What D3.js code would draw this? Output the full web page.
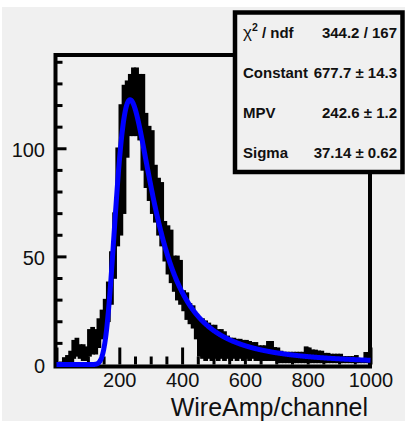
<!DOCTYPE html>
<html><head><meta charset="utf-8">
<script src="https://cdn.jsdelivr.net/npm/d3@7"></script>
<style>html,body{margin:0;padding:0;background:#fff;} svg{display:block;}</style>
</head><body>
<svg id="c" width="405" height="422"></svg>
<script>
// ---- data ----
const binStart = [0,10,20,30,40,50,60,70,80,90,100,110,120,130,140,150,160,170,180,190,
  200,210,220,230,240,250,260,270,280,290,300,310,320,330,340,350,360,370,380,390,
  400,410,420,430,440,450,460,470,480,490,500,510,520,530,540,550,560,570,580,590,
  600,610,620,630,640,650,660,670,680,690,700,710,720,730,740,750,760,770,780,790,
  800,810,820,830,840,850,860,870,880,890,900,910,920,930,940,950,960,970,980,990];
const binWidth = 10;
// upper and lower edge of the black histogram band (counts)
const bandHi = [0.5,1,3,4,6,11,12,9,9,8,16,17,16,21,25,30,38,52,70,100,
  120,129,131,134,137,137,134,134,116,110,108,92,86,84,66,64,62,50,50,48,
  34,33,28,27,22,21,21,20,19,18,18,16,16,15,13,12,12,11.5,11.5,11,
  11,10.5,10,10,8.5,8.5,8.5,10.5,10.5,7.7,7.5,6,5.5,5.5,5.5,5.5,5.5,5.5,5.5,8,
  7.5,6.6,6.5,6.1,6,5,5,4.6,4.6,4.6,4.6,3.5,3.5,3.5,3.5,4,2.5,2.3,5.4,5.4];
const bandLo = [0,0,0,0,1,3,4,3,2,2,4,5,5,8,12,16,20,28,40,55,
  60,70,96,106,106,106,104,90,82,76,70,66,60,55,48,42,38,34,30,28,
  25,21,19,17,12,4,3,2,3,2,3,2,3,2,3,2,3,2,3,2,
  3,2,3,2,2,2,2,2,2,2,1,1,1,1,1,1,1,1,1,1,
  1,1,1,1,1,1,1,1,1,1,1,1,1,1,1,1,1,1,1,1];
const xMajorTicks = [0,200,400,600,800,1000];
const xMinorTicks = [50,100,150,250,300,350,450,500,550,650,700,750,850,900,950];
const xTickLabels = [200,400,600,800,1000];
const yMajorTicks = [0,50,100];
const yMinorTicks = [10,20,30,40,60,70,80,90,110,120,130,140];
const statNames = ["Constant","MPV","Sigma"];
const statValues = ["677.7 \u00b1 14.3","242.6 \u00b1 1.2","37.14 \u00b1 0.62"];
const chi2Text = "344.2 / 167";
const fitParams = [677.7, 242.6, 37.14]; // Constant, MPV, Sigma (Landau)
const xTitle = "WireAmp/channel";

// ---- Landau density (CERNLIB DENLAN as in ROOT) ----
function landau(x, x0, xi){
  const p1=[0.4259894875,-0.1249762550,0.03984243700,-0.006298287635,0.001511162253];
  const q1=[1.0,-0.3388260629,0.09594393323,-0.01608042283,0.003778942063];
  const p2=[0.1788541609,0.1173957403,0.01488850518,-0.001394989411,0.0001283617211];
  const q2=[1.0,0.7428795082,0.3153932961,0.06694219548,0.008790609714];
  const p3=[0.1788544503,0.09359161662,0.006325387654,0.00006611667319,-0.000002031049101];
  const q3=[1.0,0.6097809921,0.2560616665,0.04746722384,0.006957301675];
  const p4=[0.9874054407,118.6723273,849.2794360,-743.7792444,427.0262186];
  const q4=[1.0,106.8615961,337.6496214,2016.712389,1597.063511];
  const p5=[1.003675074,167.5702434,4789.711289,21217.86767,-22324.94910];
  const q5=[1.0,156.9424537,3745.310488,9834.698876,66924.28357];
  const p6=[1.000827619,664.9143136,62972.92665,475554.6998,-5743609.109];
  const q6=[1.0,651.4101098,56974.73333,165917.4725,-2815759.939];
  const a1=[0.04166666667,-0.01996527778,0.02709538966];
  const a2=[-1.845568670,-4.284640743];
  const pol=(p,v)=>p[0]+(p[1]+(p[2]+(p[3]+p[4]*v)*v)*v)*v;
  const v=(x-x0)/xi; let u, d;
  if(v<-5.5){ u=Math.exp(v+1); if(u<1e-10) return 0;
    d=0.3989422803*(Math.exp(-1/u)/Math.sqrt(u))*(1+(a1[0]+(a1[1]+a1[2]*u)*u)*u);
  } else if(v<-1){ u=Math.exp(-v-1); d=Math.exp(-u)*Math.sqrt(u)*pol(p1,v)/pol(q1,v);
  } else if(v<1){ d=pol(p2,v)/pol(q2,v);
  } else if(v<5){ d=pol(p3,v)/pol(q3,v);
  } else if(v<12){ u=1/v; d=u*u*pol(p4,u)/pol(q4,u);
  } else if(v<50){ u=1/v; d=u*u*pol(p5,u)/pol(q5,u);
  } else if(v<300){ u=1/v; d=u*u*pol(p6,u)/pol(q6,u);
  } else { u=1/(v-v*Math.log(v)/(v+1)); d=u*u*(1+(a2[0]+a2[1]*u)*u); }
  return d;
}

// ---- layout ----
const svg = d3.select("#c");
const bg = "#f0f0f0";
svg.append("rect").attr("x",2).attr("y",7).attr("width",403).attr("height",414).attr("fill",bg);

const x = d3.scaleLinear().domain([0,1000]).range([56.5,370.5]);
const y = d3.scaleLinear().domain([0,143]).range([364.5,55.3]);

// histogram band
svg.append("g").selectAll("rect").data(binStart).join("rect")
  .attr("x",(d)=>x(d))
  .attr("width",(d)=>x(d+binWidth)-x(d))
  .attr("y",(d,i)=>y(bandHi[i]))
  .attr("height",(d,i)=>Math.max(0,y(bandLo[i])-y(bandHi[i])))
  .attr("fill","#000").attr("stroke","#000").attr("stroke-width",1.6);

// ticks
function styleAxis(g){
  g.select(".domain").remove();
  g.selectAll(".tick line").attr("stroke","#000").attr("stroke-width",3);
  g.selectAll(".tick text").attr("fill","#111").attr("font-family","'Liberation Sans',Arial,sans-serif").attr("font-size",20);
}
svg.append("g").attr("transform",`translate(0,${y(0)})`)
  .call(d3.axisBottom(x).tickValues(xMinorTicks).tickSize(-8).tickFormat("")).call(styleAxis);
svg.append("g").attr("transform",`translate(0,${y(0)})`)
  .call(d3.axisBottom(x).tickValues(xMajorTicks).tickSize(-17).tickFormat("")).call(styleAxis);
svg.append("g").attr("transform",`translate(0,${y(0)})`)
  .call(d3.axisBottom(x).tickValues(xTickLabels).tickSize(0).tickPadding(8.5).tickFormat(d3.format("d"))).call(styleAxis);
svg.append("g").attr("transform",`translate(${x(0)},0)`)
  .call(d3.axisLeft(y).tickValues(yMinorTicks).tickSize(-6).tickFormat("")).call(styleAxis);
svg.append("g").attr("transform",`translate(${x(0)},0)`)
  .call(d3.axisLeft(y).tickValues(yMajorTicks).tickSize(-10).tickPadding(11.5).tickFormat(d3.format("d"))).call(styleAxis)
  .selectAll(".tick text").attr("dy","0.42em");

// frame
svg.append("rect").attr("x",55.5).attr("y",55).attr("width",314.5).attr("height",311.5)
  .attr("fill","none").attr("stroke","#000").attr("stroke-width",4);

// fit curve
const fitX = d3.range(0,1000.5,1);
const line = d3.line().x(d=>x(d)).y(d=>y(fitParams[0]*landau(d,fitParams[1],fitParams[2])));
svg.append("path").datum(fitX).attr("d",line).attr("fill","none")
  .attr("stroke","#0000ff").attr("stroke-width",5).attr("stroke-linejoin","round");

// x title
svg.append("text").attr("x",368).attr("y",416).attr("text-anchor","end")
  .attr("font-family","'Liberation Sans',Arial,sans-serif").attr("font-size",25).attr("fill","#111")
  .text(xTitle);

// stats box
svg.append("rect").attr("x",235).attr("y",12.5).attr("width",167.5).attr("height",159.5)
  .attr("fill",bg).attr("stroke","#000").attr("stroke-width",4.5);
const sf = "'Liberation Sans',Arial,sans-serif";
const fs = 15;
const rowY = [37.5,77.5,117.5,157.5];
const t0 = svg.append("text").attr("x",243).attr("y",rowY[0]).attr("font-family",sf).attr("font-size",fs).attr("font-weight","bold").attr("fill","#111");
t0.append("tspan").attr("font-weight","normal").attr("font-size",17).text("\u03c7");
t0.append("tspan").attr("font-size",10.5).attr("dy",-7).text("2");
t0.append("tspan").attr("dy",7).text(" / ndf");
svg.append("text").attr("x",397).attr("y",rowY[0]).attr("text-anchor","end").attr("font-family",sf).attr("font-size",fs).attr("font-weight","bold").attr("fill","#111").text(chi2Text);
statNames.forEach((n,i)=>{
  svg.append("text").attr("x",243).attr("y",rowY[i+1]).attr("font-family",sf).attr("font-size",fs).attr("font-weight","bold").attr("fill","#111").text(n);
  svg.append("text").attr("x",397).attr("y",rowY[i+1]).attr("text-anchor","end").attr("font-family",sf).attr("font-size",fs).attr("font-weight","bold").attr("fill","#111").text(statValues[i]);
});
</script>
</body></html>
